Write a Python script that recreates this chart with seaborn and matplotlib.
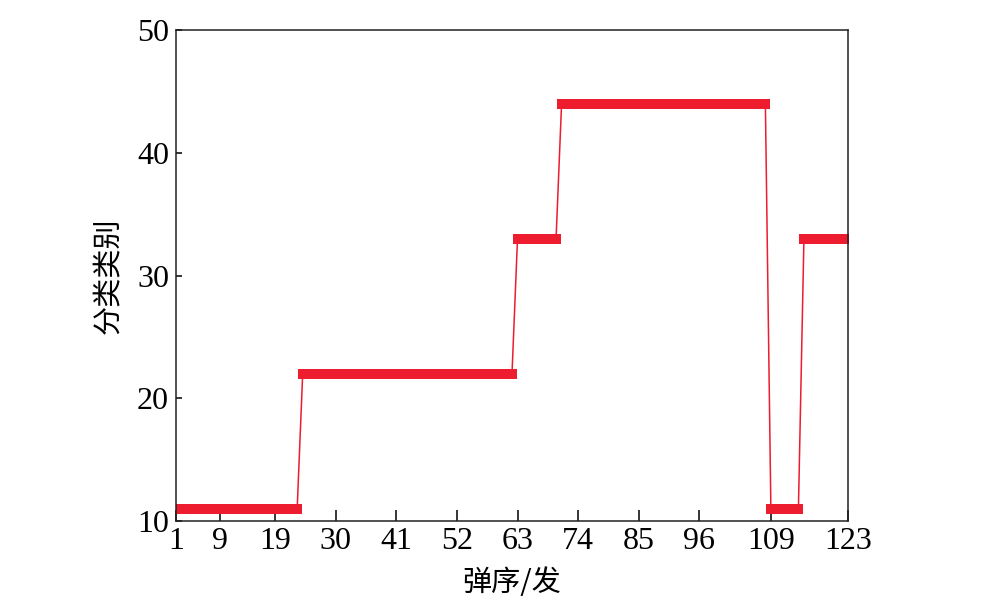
import matplotlib
matplotlib.use("Agg")
import matplotlib.pyplot as plt
import numpy as np
import pandas as pd
import seaborn as sns

# class of each run of shots, and how many shots are in each run
run_classes = [11, 22, 33, 44, 11, 33]
run_lengths = [23, 39, 8, 38, 6, 9]

x_ticks = [1, 9, 19, 30, 41, 52, 63, 74, 85, 96, 109, 123]
y_ticks = [10, 20, 30, 40, 50]

x_label = "弹序/发"
y_label = "分类类别"

# one row per shot
classes = np.repeat(run_classes, run_lengths)
df = pd.DataFrame({"shot": np.arange(1, len(classes) + 1), "cls": classes})

sns.set_style("ticks")
plt.rcParams["font.family"] = ["Liberation Serif", "Noto Sans CJK SC"]
plt.rcParams["text.color"] = "black"
plt.rcParams["xtick.color"] = "black"
plt.rcParams["ytick.color"] = "black"
plt.rcParams["axes.labelcolor"] = "black"

fig = plt.figure(figsize=(10, 6.03), dpi=100)
ax = fig.add_axes([0.176, 0.136, 0.672, 0.814])

red = "#ED1C2E"
sns.lineplot(
    data=df, x="shot", y="cls", ax=ax,
    color=red, linewidth=1.1,
    marker="s", markersize=6.6, markeredgewidth=0,
)

ax.set_xlim(1, 123)
ax.set_ylim(10, 50)
ax.set_xticks(x_ticks)
ax.set_xticklabels([str(t) for t in x_ticks])
ax.set_yticks(y_ticks)

# box around the plot, ticks pointing in
for s in ax.spines.values():
    s.set_visible(True)
    s.set_color("#222222")
    s.set_linewidth(1.1)
ax.tick_params(axis="x", direction="in", length=8, width=1.1, labelsize=23, pad=4, top=False)
ax.tick_params(axis="y", direction="in", length=4, width=1.1, labelsize=23, pad=5, right=False)

ax.set_xlabel(x_label, fontsize=21, family=["Noto Sans CJK SC"], fontweight="light", labelpad=9)
ax.set_ylabel(y_label, fontsize=21, family=["Noto Sans CJK SC"], fontweight="light", labelpad=10)

fig.savefig("out.png", dpi=100, facecolor="white")
